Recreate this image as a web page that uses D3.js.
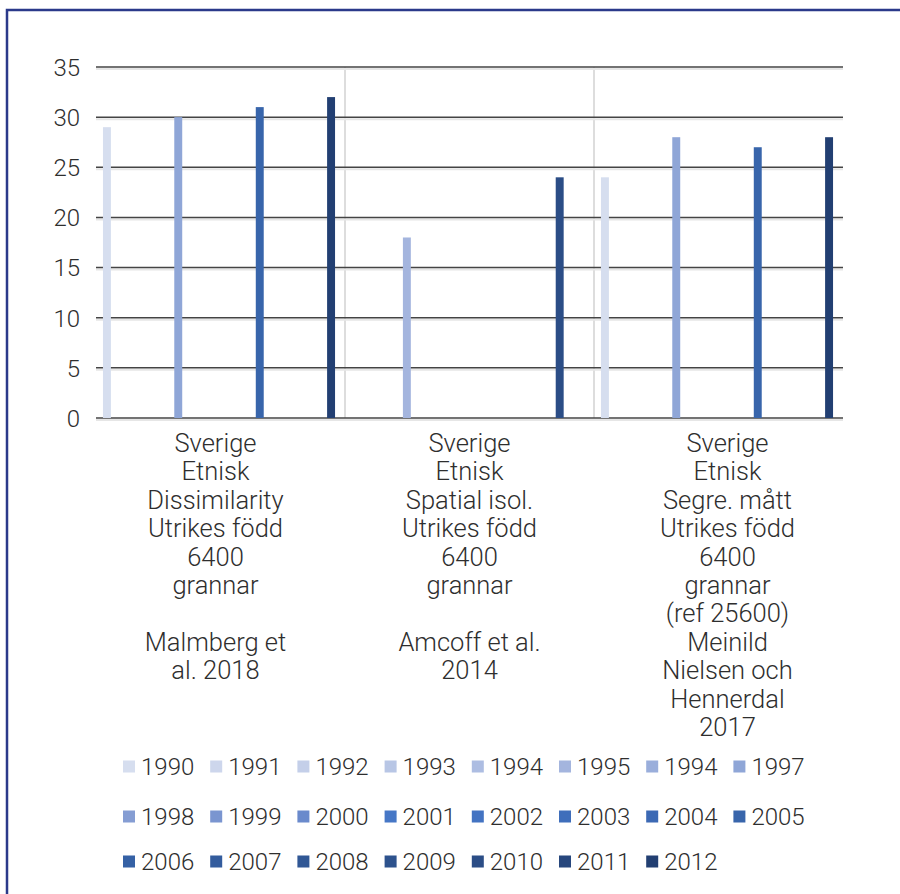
<!DOCTYPE html>
<html>
<head>
<meta charset="utf-8">
<script src="https://cdn.jsdelivr.net/npm/d3@7/dist/d3.min.js"></script>
<style>
  html, body { margin: 0; padding: 0; background: #fff; }
  svg { display: block; }
  text { font-family: Roboto, "Liberation Sans", sans-serif; font-weight: 300; fill: #2e2e2e; }
</style>
</head>
<body>
<svg id="chart" width="900" height="894"></svg>
<script>
// ---------- data ----------
const categories = ["Malmberg", "Amcoff", "Meinild"];
const categoryLabels = [
  ["Sverige", "Etnisk", "Dissimilarity", "Utrikes född", "6400", "grannar", "", "Malmberg et", "al. 2018"],
  ["Sverige", "Etnisk", "Spatial isol.", "Utrikes född", "6400", "grannar", "", "Amcoff et al.", "2014"],
  ["Sverige", "Etnisk", "Segre. mått", "Utrikes född", "6400", "grannar", "(ref 25600)", "Meinild", "Nielsen och", "Hennerdal", "2017"]
];
const years = ["1990","1991","1992","1993","1994","1995","1996","1997","1998","1999","2000",
               "2001","2002","2003","2004","2005","2006","2007","2008","2009","2010","2011","2012"];
const legendLabels = ["1990","1991","1992","1993","1994","1995","1994","1997","1998","1999","2000",
               "2001","2002","2003","2004","2005","2006","2007","2008","2009","2010","2011","2012"];
// values per category, one entry per year (null = no bar)
const malmbergValues = [29,null,null,null,null,null,null,30,null,null,null,null,null,null,null,31,null,null,null,null,null,null,32];
const amcoffValues   = [null,null,null,null,null,18,null,null,null,null,null,null,null,null,null,null,null,null,null,null,24,null,null];
const meinildValues  = [24,null,null,null,null,null,null,28,null,null,null,null,null,null,null,27,null,null,null,null,null,null,28];
const yTicks = [0, 5, 10, 15, 20, 25, 30, 35];

// ---------- styles ----------
const yearColors = ["#d6deef","#cdd6ec","#c4cfe9","#b8c6e5","#adbde2","#a4b5de","#9aaedb","#8fa6d7",
  "#859dd3","#7a95d0","#6a8acc","#4677c6","#4373c2","#3f6ebb","#3c69b4","#3865ab","#3561a5",
  "#335c9d","#305795","#2d528d","#2b4d86","#27477d","#223f72"];

const valuesByCat = [malmbergValues, amcoffValues, meinildValues];
const svg = d3.select("#chart");

// frame
svg.append("path")
  .attr("d", "M7,905 L7,10 L910,10")
  .attr("fill", "none").attr("stroke", "#2b3a8a").attr("stroke-width", 2.5);

const plot = { left: 96, right: 843, top: 67, bottom: 418 };

const x0 = d3.scaleBand().domain(categories).range([plot.left, plot.right]).padding(0);
const x1 = d3.scaleBand().domain(years).range([-1.5, x0.bandwidth() - 1.5])
  .paddingInner(0.22).paddingOuter(0.83);
const y = d3.scaleLinear().domain([0, 35]).range([plot.bottom, plot.top]);
const color = d3.scaleOrdinal().domain(years).range(yearColors);

// vertical separators between categories
svg.append("g").selectAll("line")
  .data(categories.slice(1))
  .join("line")
  .attr("x1", d => x0(d)).attr("x2", d => x0(d))
  .attr("y1", y(35)).attr("y2", y(0))
  .attr("stroke", "#d2d2d2").attr("stroke-width", 1.5);

// gridlines (with soft shadow)
const grid = svg.append("g");
grid.selectAll("line.sh").data(yTicks).join("line").attr("class", "sh")
  .attr("x1", plot.left).attr("x2", plot.right)
  .attr("y1", d => y(d) + 2).attr("y2", d => y(d) + 2)
  .attr("stroke", "#e6e6e6").attr("stroke-width", 2);
grid.selectAll("line.gl").data(yTicks).join("line").attr("class", "gl")
  .attr("x1", plot.left).attr("x2", plot.right)
  .attr("y1", d => y(d)).attr("y2", d => y(d))
  .attr("stroke", "#444").attr("stroke-width", 1.5);

// y axis labels
const yAxis = d3.axisLeft(y).tickValues(yTicks).tickSize(0).tickPadding(0);
const yg = svg.append("g").attr("transform", `translate(80,0)`).call(yAxis);
yg.select(".domain").remove();
yg.selectAll("text").style("font-size", "24px").style("font-family", "Roboto, sans-serif")
  .style("font-weight", 300).attr("fill", "#333").attr("dy", "0.35em");

// bars
const barData = [];
categories.forEach((c, ci) => {
  years.forEach((yr, yi) => {
    const v = valuesByCat[ci][yi];
    if (v != null) barData.push({ cat: c, year: yr, value: v });
  });
});
svg.append("g").selectAll("rect")
  .data(barData)
  .join("rect")
  .attr("x", d => x0(d.cat) + x1(d.year))
  .attr("width", x1.bandwidth())
  .attr("y", d => y(d.value))
  .attr("height", d => y(0) - y(d.value))
  .attr("fill", d => color(d.year));

// category labels
const labelNudge = [-5, 0, 9];
const lab = svg.append("g");
categories.forEach((c, ci) => {
  const t = lab.append("text")
    .attr("text-anchor", "middle")
    .attr("x", x0(c) + x0.bandwidth() / 2 + labelNudge[ci])
    .attr("y", 452)
    .style("font-size", "25.5px");
  categoryLabels[ci].forEach((line, li) => {
    t.append("tspan")
      .attr("x", x0(c) + x0.bandwidth() / 2 + labelNudge[ci])
      .attr("y", 452 + li * 28.4)
      .text(line === "" ? "\u00a0" : line);
  });
});

// legend
const legendRowsY = [767, 817, 862];
const perRow = 8;
const leg = svg.append("g");
legendLabels.forEach((lbl, i) => {
  const row = Math.floor(i / perRow), col = i % perRow;
  const gx = 123 + col * 87.2, gy = legendRowsY[row];
  const g = leg.append("g").attr("transform", `translate(${gx},${gy})`);
  g.append("rect").attr("x", 0).attr("y", -6.5).attr("width", 12).attr("height", 12)
    .attr("fill", yearColors[i]);
  g.append("text").attr("x", 18).attr("y", 0).attr("dy", "0.35em")
    .style("font-size", "24px").text(lbl);
});
</script>
</body>
</html>
